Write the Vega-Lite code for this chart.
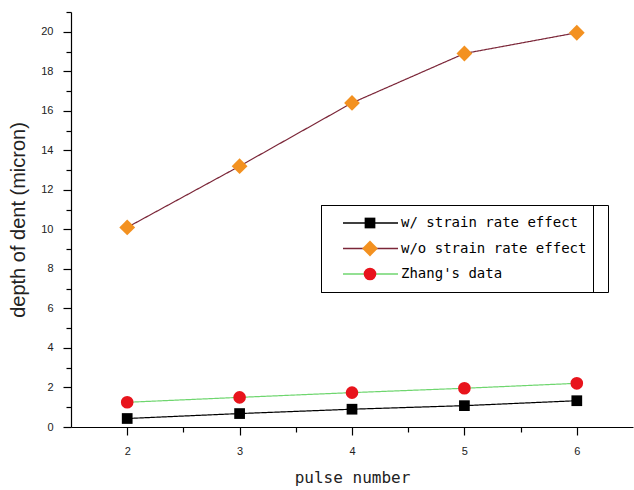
{
  "$schema": "https://vega.github.io/schema/vega-lite/v6.json",
  "width": 562,
  "height": 415,
  "autosize": {"type": "none"},
  "padding": {"left": 71, "top": 12, "right": 1, "bottom": 63},
  "background": "white",
  "config": {"view": {"stroke": null}},
  "data": {
    "values": [
      {"pulse": 2, "depth": 0.43, "series": "w/ strain rate effect"},
      {"pulse": 3, "depth": 0.68, "series": "w/ strain rate effect"},
      {"pulse": 4, "depth": 0.9, "series": "w/ strain rate effect"},
      {"pulse": 5, "depth": 1.08, "series": "w/ strain rate effect"},
      {"pulse": 6, "depth": 1.33, "series": "w/ strain rate effect"},
      {"pulse": 2, "depth": 10.1, "series": "w/o strain rate effect"},
      {"pulse": 3, "depth": 13.2, "series": "w/o strain rate effect"},
      {"pulse": 4, "depth": 16.4, "series": "w/o strain rate effect"},
      {"pulse": 5, "depth": 18.9, "series": "w/o strain rate effect"},
      {"pulse": 6, "depth": 19.95, "series": "w/o strain rate effect"},
      {"pulse": 2, "depth": 1.25, "series": "Zhang's data"},
      {"pulse": 3, "depth": 1.5, "series": "Zhang's data"},
      {"pulse": 4, "depth": 1.74, "series": "Zhang's data"},
      {"pulse": 5, "depth": 1.96, "series": "Zhang's data"},
      {"pulse": 6, "depth": 2.21, "series": "Zhang's data"}
    ]
  },
  "resolve": {"axis": {"x": "independent", "y": "independent"}},
  "layer": [
    {
      "mark": {"type": "line", "strokeWidth": 1.2},
      "encoding": {
        "x": {
          "field": "pulse", "type": "quantitative",
          "scale": {"domain": [1.5, 6.5], "nice": false, "zero": false},
          "axis": {
            "orient": "bottom", "values": [2, 3, 4, 5, 6], "format": "d", "grid": false,
            "tickSize": 8, "tickColor": "#000", "domainColor": "#000", "domainWidth": 1.2, "tickWidth": 1.2,
            "labelPadding": 10, "labelFont": "Liberation Sans", "labelFontSize": 11, "labelColor": "#222",
            "title": "pulse number", "titleFont": "DejaVu Sans Mono", "titleFontSize": 16, "titleFontWeight": "normal",
            "titleColor": "#222", "titlePadding": 13
          }
        },
        "y": {
          "field": "depth", "type": "quantitative",
          "scale": {"domain": [0, 21], "nice": false},
          "axis": {
            "orient": "left", "values": [0, 2, 4, 6, 8, 10, 12, 14, 16, 18, 20], "format": "d", "grid": false,
            "tickSize": 8, "tickColor": "#000", "domainColor": "#000", "domainWidth": 1.2, "tickWidth": 1.2,
            "labelPadding": 10, "labelFont": "Liberation Sans", "labelFontSize": 11, "labelColor": "#222",
            "title": "depth of dent (micron)", "titleFont": "Liberation Sans", "titleFontSize": 20, "titleFontWeight": "normal",
            "titleColor": "#222", "titlePadding": 12
          }
        },
        "stroke": {
          "field": "series", "type": "nominal",
          "scale": {
            "domain": ["w/ strain rate effect", "w/o strain rate effect", "Zhang's data"],
            "range": ["#000000", "#7b2638", "#6fd66f"]
          },
          "legend": {
            "title": null, "orient": "none", "legendX": 250, "legendY": 193,
            "direction": "vertical",
            "strokeColor": "#000", "padding": 6,
            "symbolType": "stroke", "symbolSize": 3025, "symbolStrokeWidth": 1.3, "symbolOffset": 15,
            "clipHeight": 24, "rowPadding": 1.5,
            "labelFont": "DejaVu Sans Mono", "labelFontSize": 14, "labelColor": "#000", "labelOffset": 2, "labelLimit": 400
          }
        },
        "strokeDash": {
          "field": "series", "type": "nominal",
          "scale": {
            "domain": ["Zhang's data", "w/ strain rate effect", "w/o strain rate effect"],
            "range": [[1, 0], [1, 0], [1, 0]]
          },
          "legend": {
            "title": null, "orient": "none", "legendX": 250, "legendY": 193,
            "direction": "vertical",
            "strokeColor": "#000", "padding": 6,
            "symbolType": "stroke", "symbolSize": 75076, "symbolStrokeWidth": 1, "symbolOpacity": 0,
            "clipHeight": 24, "rowPadding": 1.5,
            "labelExpr": "''", "labelFontSize": 1, "labelOffset": 0
          }
        }
      }
    },
    {
      "mark": {"type": "point", "filled": true, "opacity": 1, "strokeWidth": 0},
      "encoding": {
        "x": {
          "field": "pulse", "type": "quantitative",
          "axis": {
            "orient": "bottom", "values": [2.5, 3.5, 4.5, 5.5], "labels": false, "domain": false, "grid": false,
            "tickSize": 5, "tickColor": "#000", "tickWidth": 1.2, "title": null
          }
        },
        "y": {
          "field": "depth", "type": "quantitative",
          "axis": {
            "orient": "left", "values": [1, 3, 5, 7, 9, 11, 13, 15, 17, 19, 21], "labels": false, "domain": false, "grid": false,
            "tickSize": 5, "tickColor": "#000", "tickWidth": 1.2, "title": null
          }
        },
        "color": {
          "field": "series", "type": "nominal", "sort": null,
          "scale": {"range": ["#000000", "#f39120", "#e8141c"]},
          "legend": {
            "title": null, "orient": "none", "legendX": 285, "legendY": 193,
            "direction": "vertical", "padding": 6,
            "symbolStrokeWidth": 0, "symbolOpacity": 1,
            "clipHeight": 24, "rowPadding": 1.5,
            "labelExpr": "''", "labelFontSize": 1
          }
        },
        "shape": {
          "field": "series", "type": "nominal", "sort": null,
          "scale": {"range": ["square", "diamond", "circle"]}
        },
        "size": {
          "field": "series", "type": "nominal", "sort": null,
          "scale": {"type": "ordinal", "range": [115, 250, 160]}
        }
      }
    }
  ]
}
